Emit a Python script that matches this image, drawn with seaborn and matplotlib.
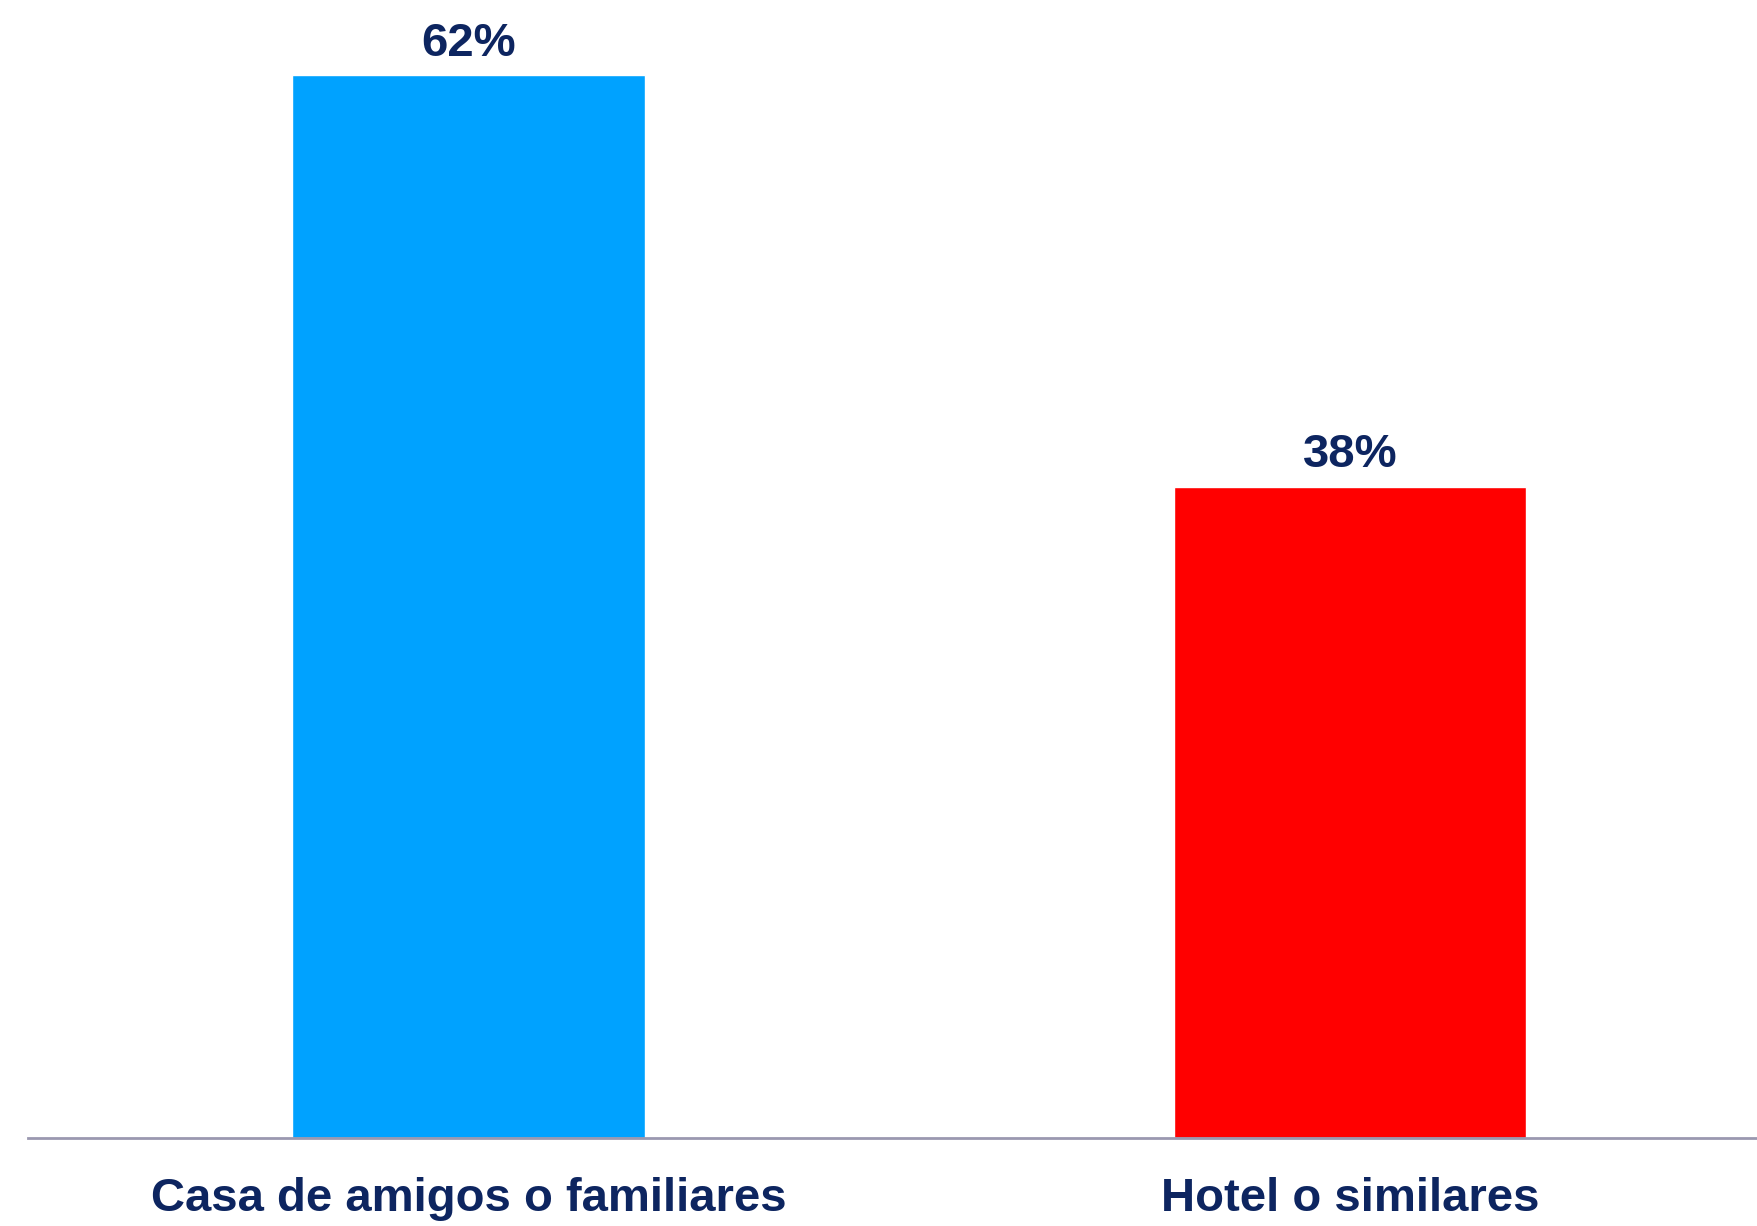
import matplotlib
matplotlib.use('Agg')
import matplotlib.pyplot as plt
import seaborn as sns

categorias = ['Casa de amigos o familiares', 'Hotel o similares']
valores = [62, 38]
etiquetas = ['62%', '38%']
colores = ['#00A2FF', '#FF0000']

sns.set_style('white')
plt.rcParams['font.family'] = ['Liberation Sans', 'DejaVu Sans']

fig = plt.figure(figsize=(17.58, 12.26), dpi=100)
ax = fig.add_axes([28/1758, 1 - 1138/1226, 1 - 28/1758, 1138/1226])

sns.barplot(x=categorias, y=valores, hue=categorias, palette=colores,
            width=0.4, legend=False, saturation=1, ax=ax)

ax.set_xlim(-0.5, 1.463)
ax.set_ylim(0, 66.4)

for cont, lab in zip(ax.containers, etiquetas):
    ax.bar_label(cont, labels=[lab], padding=7, fontsize=34,
                 fontweight='bold', color='#0D2560')

ax.set_yticks([])
ax.tick_params(axis='x', length=0, pad=28, labelsize=34, labelcolor='#0D2560')
for t in ax.get_xticklabels():
    t.set_fontweight('bold')

for s in ['top', 'right', 'left']:
    ax.spines[s].set_visible(False)
ax.spines['bottom'].set_color('#9A98B0')
ax.spines['bottom'].set_linewidth(2)

fig.savefig('out.png', dpi=100)
